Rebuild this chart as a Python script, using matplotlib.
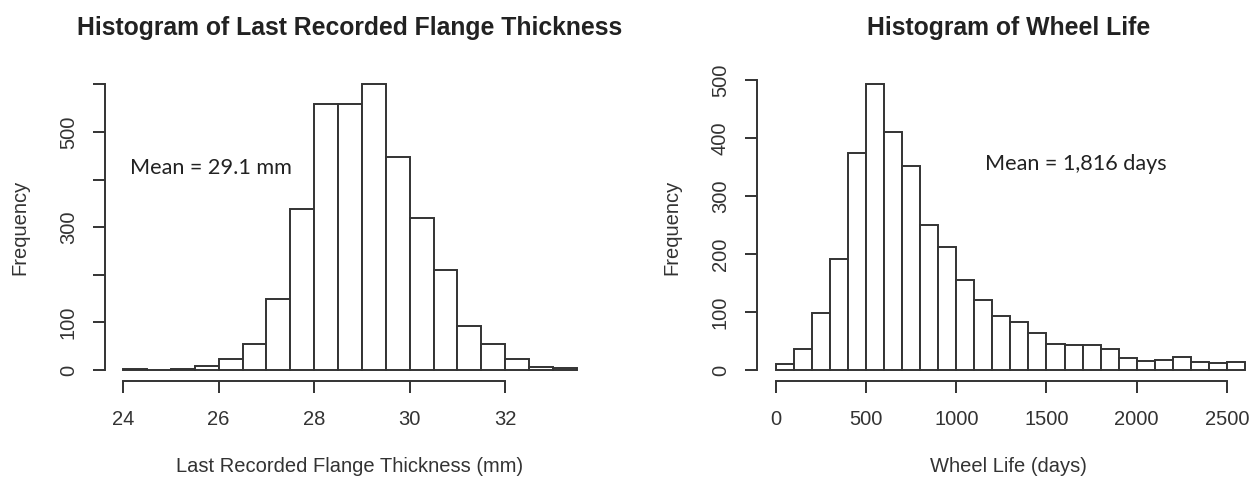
import numpy as np
import matplotlib
matplotlib.use("Agg")
import matplotlib.pyplot as plt

# ---- data ----
flange_edges = [24.0, 24.5, 25.0, 25.5, 26.0, 26.5, 27.0, 27.5, 28.0, 28.5, 29.0,
                29.5, 30.0, 30.5, 31.0, 31.5, 32.0, 32.5, 33.0, 33.5]
flange_counts = [2, 1, 2, 9, 23, 54, 150, 338, 558, 558, 600,
                 448, 320, 210, 92, 55, 24, 6, 4]
flange_xticks = [24, 26, 28, 30, 32]
flange_yticks = [0, 100, 200, 300, 400, 500, 600]
flange_ylabels = ["0", "100", "", "300", "", "500", ""]

life_edges = list(range(0, 2700, 100))
life_counts = [10, 36, 98, 191, 374, 493, 410, 353, 250, 213, 155, 120, 93,
               82, 63, 45, 43, 43, 36, 20, 16, 17, 23, 14, 12, 14]
life_xticks = [0, 500, 1000, 1500, 2000, 2500]
life_yticks = [0, 100, 200, 300, 400, 500]
life_ylabels = ["0", "100", "200", "300", "400", "500"]

W, H = 1260, 479
fig = plt.figure(figsize=(W / 100, H / 100), dpi=100)

INK = "#333333"
FONT = ["Liberation Sans", "DejaVu Sans"]
plt.rcParams["font.family"] = FONT
LW = 1.4


def make_axes(x0, x1, y0, y1):
    return fig.add_axes([x0 / W, (H - y1) / H, (x1 - x0) / W, (y1 - y0) / H])


def style(ax, xticks, yticks, ylabels, xbounds, ybounds, title, xlabel,
          ylab_frac, title_frac, xlab_frac):
    for s in ["top", "right"]:
        ax.spines[s].set_visible(False)
    for s in ["left", "bottom"]:
        ax.spines[s].set_color(INK)
        ax.spines[s].set_linewidth(LW)
    ax.spines["bottom"].set_bounds(*xbounds)
    ax.spines["left"].set_bounds(*ybounds)
    ax.set_xticks(xticks)
    ax.set_xticklabels([str(t) for t in xticks])
    ax.set_yticks(yticks)
    ax.set_yticklabels(ylabels, rotation=90, va="center")
    ax.tick_params(axis="both", direction="out", length=8.5, width=LW,
                   color=INK, labelcolor=INK, labelsize=14.5)
    ax.tick_params(axis="x", pad=12)
    ax.tick_params(axis="y", pad=11)
    ax.set_xlabel(xlabel, fontsize=14.5, color=INK)
    ax.xaxis.set_label_coords(0.5, xlab_frac)
    ax.xaxis.label.set_va("center")
    ax.set_ylabel("Frequency", fontsize=14.5, color=INK)
    ax.yaxis.set_label_coords(ylab_frac, 0.5)
    ax.yaxis.label.set_va("center")
    ax.text(0.5, title_frac, title, transform=ax.transAxes, ha="center",
            va="center", fontsize=17.8, fontweight="bold", color="#222222")


# ---- left: flange thickness ----
y0, y1 = 73, 381.4
ax1 = make_axes(105, 595, y0, y1)
ax1.bar(flange_edges[:-1], flange_counts, width=np.diff(flange_edges),
        align="edge", facecolor="white", edgecolor=INK, linewidth=LW)
ax1.set_xlim(23.62, 33.88)
ax1.set_ylim(-24, 624)
style(ax1, flange_xticks, flange_yticks, flange_ylabels, (24, 32), (0, 600),
      "Histogram of Last Recorded Flange Thickness",
      "Last Recorded Flange Thickness (mm)",
      (20 - 105) / 490, (y1 - 28) / (y1 - y0), (y1 - 466) / (y1 - y0))
ax1.text(24.15, 424, "Mean = 29.1 mm", fontsize=15.6, family=["Lato", "DejaVu Sans"],
         color="#222222", ha="left", va="center")

# ---- right: wheel life ----
ax2 = make_axes(757, 1260, y0, y1)
ax2.bar(life_edges[:-1], life_counts, width=np.diff(life_edges),
        align="edge", facecolor="white", edgecolor=INK, linewidth=LW)
ax2.set_xlim(-104, 2683)
ax2.set_ylim(-19.7, 512.7)
style(ax2, life_xticks, life_yticks, life_ylabels, (0, 2500), (0, 500),
      "Histogram of Wheel Life", "Wheel Life (days)",
      (672 - 757) / 503, (y1 - 28) / (y1 - y0), (y1 - 466) / (y1 - y0))
ax2.text(1159, 355, "Mean = 1,816 days", fontsize=15.6, family=["Lato", "DejaVu Sans"],
         color="#222222", ha="left", va="center")

fig.savefig("out.png", dpi=100, facecolor="white")
